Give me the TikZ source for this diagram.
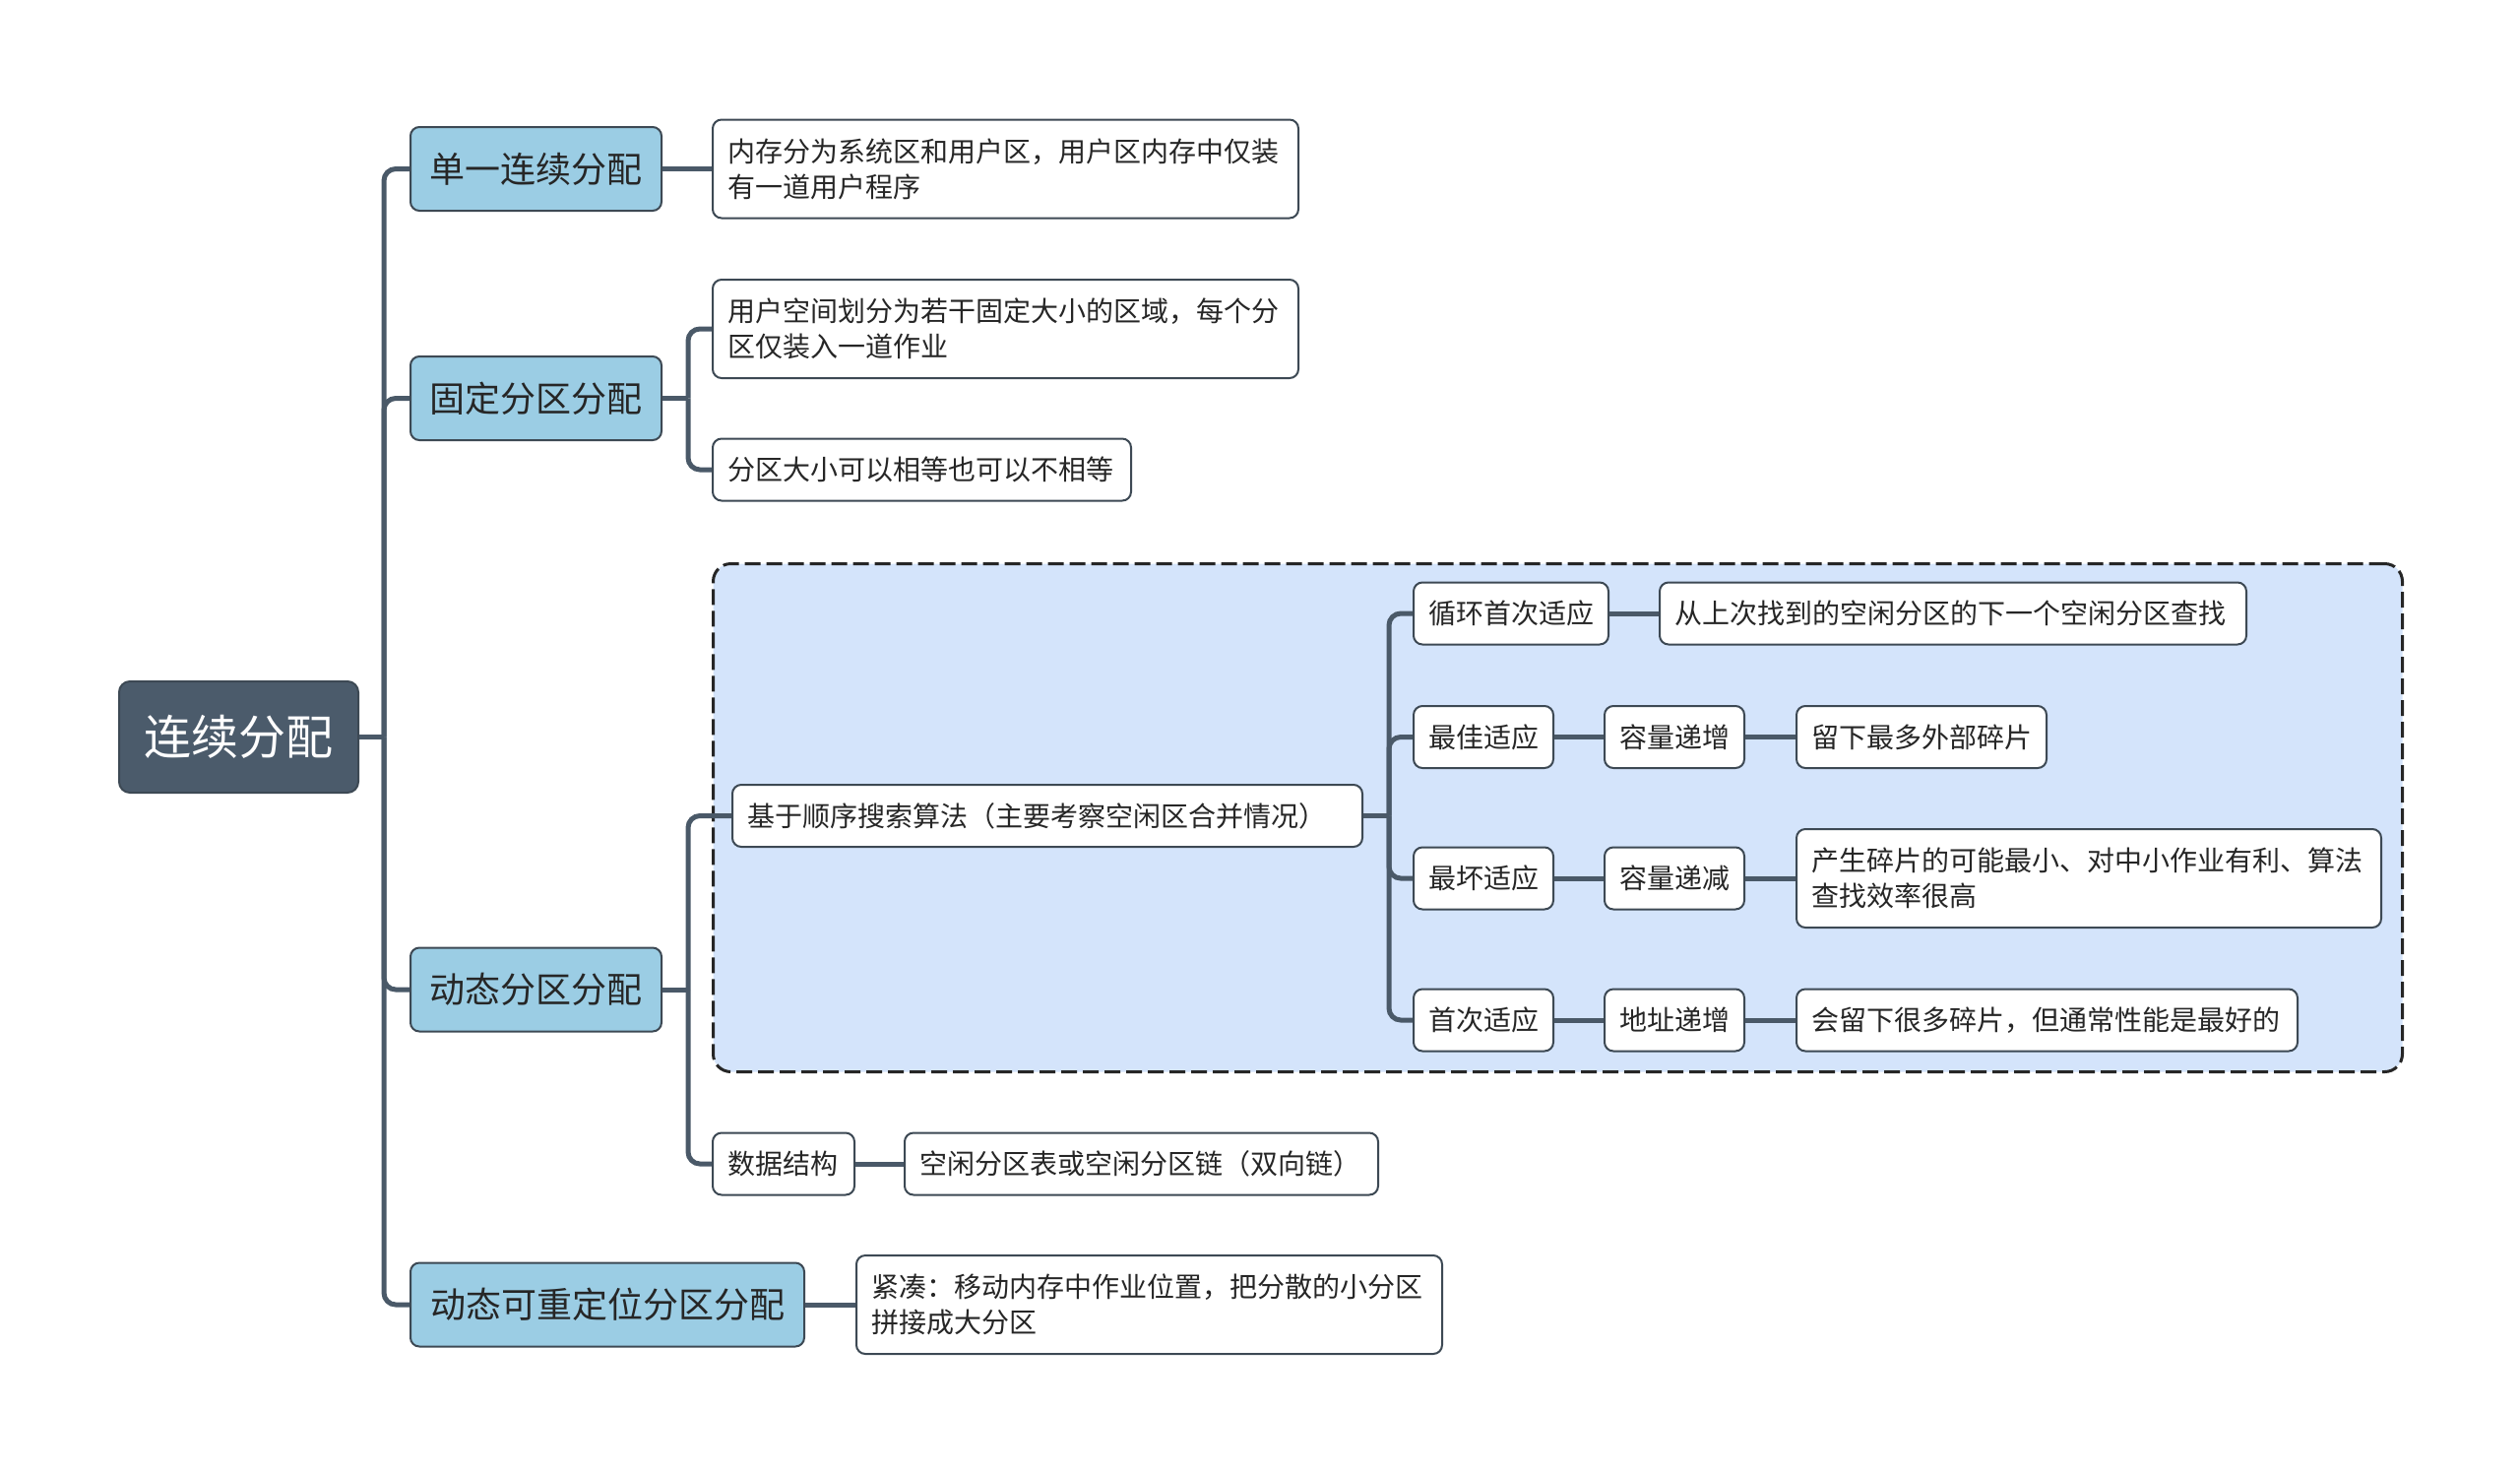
\documentclass[tikz,border=0pt]{standalone}
\usepackage{fontspec}
\newfontfamily\cjk{Noto Sans CJK SC}
\definecolor{rootfill}{HTML}{4B5B6B}
\definecolor{topfill}{HTML}{9BCDE4}
\definecolor{zonefill}{HTML}{D4E4FB}
\definecolor{wirecol}{HTML}{4A5968}
\definecolor{rim}{HTML}{3D4954}

\begin{document}
\begin{tikzpicture}[x=1pt, y=-1pt, font=\cjk\fontsize{28}{36}\selectfont,
  box/.style={draw=rim, line width=2pt, rounded corners=9pt, fill=white, text=black!85, anchor=west, align=left, inner xsep=15pt, inner ysep=4pt},
  rootbox/.style={box, anchor=center, align=center, fill=rootfill, text=white, rounded corners=11pt, minimum width=243pt, minimum height=113pt, font=\cjk\fontsize{48}{56}\selectfont},
  top/.style={box, align=center, fill=topfill, minimum height=85pt, font=\cjk\fontsize{36}{44}\selectfont},
  leaf/.style={box, minimum height=63pt},
  pair/.style={box, minimum height=100pt},
  zone/.style={draw=black!85, fill=zonefill, line width=3pt, dash pattern=on 16pt off 6pt, rounded corners=18pt, anchor=north west, minimum width=1716pt, minimum height=516pt, inner sep=0pt},
  wire/.style={draw=wirecol, line width=5pt, rounded corners=12pt}]
\useasboundingbox (0,0) rectangle (2560,1497);
\node[zone] (zone) at (723,571) {};
\node[rootbox] (root) at (242.5,748.5) {连续分配};
\node[top, text width=225pt] (single) at (416,171.5) {单一连续分配};
\node[top, text width=225pt] (fixed)  at (416,404.5) {固定分区分配};
\node[top, text width=225pt] (dyn)    at (416,1005) {动态分区分配};
\node[top, text width=370pt] (reloc)  at (416,1325) {动态可重定位分区分配};
\node[pair, text width=565pt] (singletxt) at (723,171.5) {内存分为系统区和用户区，用户区内存中仅装\\有一道用户程序};
\node[pair, text width=565pt] (fixedtxt)  at (723,334) {用户空间划分为若干固定大小的区域，每个分\\区仅装入一道作业};
\node[leaf, text width=395pt] (fixedsize) at (723,477) {分区大小可以相等也可以不相等};
\node[leaf, text width=610pt] (search)    at (743,828.5) {基于顺序搜索算法（主要考察空闲区合并情况）};
\node[leaf, text width=114pt] (ds)        at (723,1182) {数据结构};
\node[leaf, text width=451pt] (dslist)    at (918,1182) {空闲分区表或空闲分区链（双向链）};
\node[pair, text width=565pt] (compact)   at (869,1325) {紧凑：移动内存中作业位置，把分散的小分区\\拼接成大分区};
\node[leaf, text width=168pt] (nextfit)     at (1435,623) {循环首次适应};
\node[leaf, text width=566pt] (nextfitnote) at (1685,623) {从上次找到的空闲分区的下一个空闲分区查找};
\node[leaf, text width=112pt] (bestfit)   at (1435,748.5) {最佳适应};
\node[leaf, text width=112pt] (bestord)   at (1629,748.5) {容量递增};
\node[leaf, text width=224pt] (bestnote)  at (1824,748.5) {留下最多外部碎片};
\node[leaf, text width=112pt] (worstfit)  at (1435,892) {最坏适应};
\node[leaf, text width=112pt] (worstord)  at (1629,892) {容量递减};
\node[pair, text width=564pt] (worstnote) at (1824,892) {产生碎片的可能最小、对中小作业有利、算法\\查找效率很高};
\node[leaf, text width=112pt] (firstfit)  at (1435,1036) {首次适应};
\node[leaf, text width=112pt] (firstord)  at (1629,1036) {地址递增};
\node[leaf, text width=479pt] (firstnote) at (1824,1036) {会留下很多碎片，但通常性能是最好的};
% tree connectors
\draw[wire] (root.east) -- ++(25,0);
\foreach \k in {single,fixed,dyn,reloc}
  \draw[wire] (root.east) ++(25,0) |- (\k.west);
\draw[wire] (single.east) -- (singletxt.west);
\draw[wire] (fixed.east) -- ++(26,0);
\foreach \k in {fixedtxt,fixedsize}
  \draw[wire] (fixed.east) ++(26,0) |- (\k.west);
\draw[wire] (dyn.east) -- ++(26,0);
\foreach \k in {search,ds}
  \draw[wire] (dyn.east) ++(26,0) |- (\k.west);
\draw[wire] (search.east) -- ++(26,0);
\foreach \k in {nextfit,bestfit,worstfit,firstfit}
  \draw[wire] (search.east) ++(26,0) |- (\k.west);
\draw[wire] (ds.east) -- (dslist.west);
\draw[wire] (reloc.east) -- (compact.west);
\draw[wire] (nextfit.east) -- (nextfitnote.west);
\draw[wire] (bestfit.east) -- (bestord.west);
\draw[wire] (bestord.east) -- (bestnote.west);
\draw[wire] (worstfit.east) -- (worstord.west);
\draw[wire] (worstord.east) -- (worstnote.west);
\draw[wire] (firstfit.east) -- (firstord.west);
\draw[wire] (firstord.east) -- (firstnote.west);
\end{tikzpicture}
\end{document}
